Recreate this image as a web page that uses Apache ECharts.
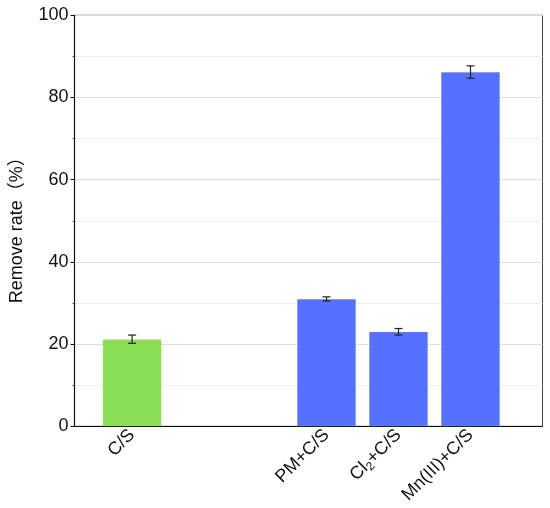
<!DOCTYPE html>
<html>
<head>
<meta charset="utf-8">
<script src="https://cdn.jsdelivr.net/npm/echarts@6/dist/echarts.min.js"></script>
<style>
html,body{margin:0;padding:0;background:#fff;}
#main{width:550px;height:508px;}
</style>
</head>
<body>
<div id="main"></div>
<script>
// group names, their x position on the axis, and values
var groups = ['C/S', 'PM+C/S', 'Cl2+C/S', 'Mn(III)+C/S'];
var xPos = [0.8, 3.5, 4.5, 5.5];
var rates = [21.2, 31.0, 23.0, 86.2];
var errs = [1.0, 0.5, 0.8, 1.5];
var colors = ['#8ade55', '#5671ff', '#5671ff', '#5671ff'];
var yTicks = [0, 20, 40, 60, 80, 100];

var chart = echarts.init(document.getElementById('main'));

var barData = [];
var errData = [];
for (var i = 0; i < groups.length; i++) {
    barData.push({value: [xPos[i], rates[i]], itemStyle: {color: colors[i]}});
    errData.push([xPos[i], rates[i] - errs[i], rates[i] + errs[i]]);
}

function labelFor(v) {
    for (var i = 0; i < xPos.length; i++) {
        if (Math.abs(xPos[i] - v) < 1e-6) {
            if (groups[i] == 'Cl2+C/S') return '{a|Cl}{s|2}{a|+C/S}';
            return '{a|' + groups[i] + '}';
        }
    }
    return '';
}

var font = 'Liberation Sans, Arial';

var option = {
    backgroundColor: '#fff',
    animation: false,
    grid: {
        left: 74.5, right: 7.5, top: 15.3, bottom: 81.7,
        show: true, borderColor: '#444', borderWidth: 1
    },
    xAxis: {
        type: 'value',
        min: 0, max: 6.5,
        splitLine: {show: false},
        axisLine: {show: true, lineStyle: {color: '#111', width: 1.2}},
        axisTick: {show: false},
        axisLabel: {
            customValues: xPos,
            rotate: 45,
            margin: 6,
            formatter: labelFor,
            rich: {
                a: {fontFamily: font, fontSize: 18, color: '#111'},
                s: {fontFamily: font, fontSize: 12, color: '#111', padding: [9, 0, 0, 0]}
            }
        }
    },
    yAxis: {
        type: 'value',
        min: 0, max: 100, interval: 20,
        name: 'Remove rate（%）',
        nameLocation: 'middle',
        nameGap: 48,
        nameTextStyle: {fontFamily: font + ', Noto Sans CJK SC', fontSize: 18, color: '#111', padding: [0, 0, 0, -10]},
        axisLine: {show: true, lineStyle: {color: '#111', width: 1.2}},
        axisTick: {show: true, length: 4, lineStyle: {color: '#111'}},
        minorTick: {show: true, splitNumber: 2, length: 2, lineStyle: {color: '#555'}},
        axisLabel: {
            fontFamily: font, fontSize: 18, color: '#111', margin: 6,
            customValues: yTicks
        },
        splitLine: {show: true, lineStyle: {color: '#dcdcdc', width: 1}},
        minorSplitLine: {show: true, lineStyle: {color: '#f0f0f0', width: 1}}
    },
    series: [
        {
            type: 'bar',
            barWidth: 59,
            data: barData,
            itemStyle: {borderColor: 'rgba(255,255,255,0.25)', borderWidth: 0.5}
        },
        {
            type: 'custom',
            data: errData,
            z: 10,
            renderItem: function (params, api) {
                var x = api.value(0);
                var lo = api.coord([x, api.value(1)]);
                var hi = api.coord([x, api.value(2)]);
                var w = 4;
                var st = {stroke: '#222', lineWidth: 1.2};
                return {
                    type: 'group',
                    children: [
                        {type: 'line', shape: {x1: lo[0], y1: lo[1], x2: hi[0], y2: hi[1]}, style: st},
                        {type: 'line', shape: {x1: lo[0] - w, y1: lo[1], x2: lo[0] + w, y2: lo[1]}, style: st},
                        {type: 'line', shape: {x1: hi[0] - w, y1: hi[1], x2: hi[0] + w, y2: hi[1]}, style: st}
                    ]
                };
            }
        }
    ]
};
chart.setOption(option);
</script>
</body>
</html>
